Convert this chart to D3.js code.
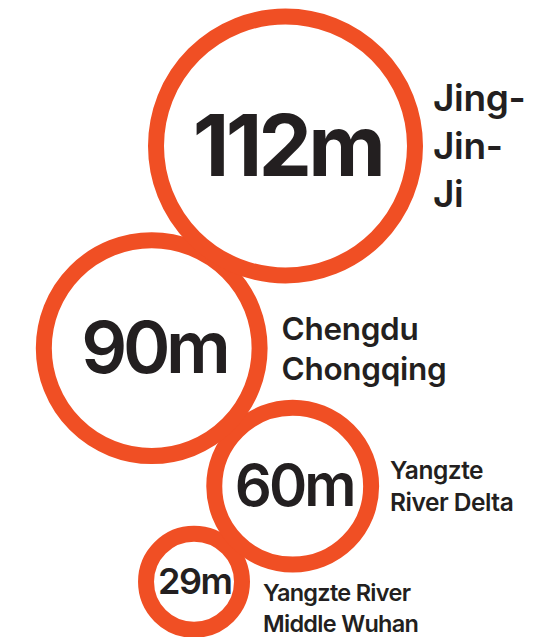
<!DOCTYPE html>
<html>
<head>
<meta charset="utf-8">
<script src="https://cdn.jsdelivr.net/npm/d3@7/dist/d3.min.js"></script>
<style>
  html, body { margin: 0; padding: 0; background: #fff; }
  svg { display: block; }
  text { font-family: Inter, "Noto Sans", sans-serif; fill: #231F20; }
</style>
</head>
<body>
<div id="chart"></div>
<script>
// ---- data ----
const regions = ["Jing-Jin-Ji", "Chengdu Chongqing", "Yangzte River Delta", "Yangzte River Middle Wuhan"];
const labelLines = [["Jing-", "Jin-", "Ji"], ["Chengdu", "Chongqing"], ["Yangzte", "River Delta"], ["Yangzte River", "Middle Wuhan"]];
const population = [112, 90, 60, 29];
const valueLabels = ["112m", "90m", "60m", "29m"];

// ---- layout / style ----
const W = 547, H = 637;
const ORANGE = "#F04F24";
const STROKE = 16;
const anchor = { x: 285.5, y: 146 };          // centre of first circle
const chainAngle = [123.5, 44.4, 135.9];       // degrees, direction to next circle
const chainOverlap = [11, 5, 5];               // px overlap of outer edges
const numberSize = [85, 72, 58, 36];
const numberWeight = [700, 600, 600, 600];
const numberSpacing = [-0.045, -0.06, -0.05, -0.04];
const labelSize = [37, 31.5, 24.5, 23.5];
const labelSpacing = [-0.01, -0.01, -0.02, -0.03];
const labelLead = [48, 40, 32, 31];
const labelGap = [10, 14, 11, 13];
const labelShift = [0, 0, 0, 26];

const rOuter = d3.scaleLinear().domain([0, 112]).range([27.5, 137.5]);

const svg = d3.select("#chart").append("svg")
  .attr("width", W).attr("height", H)
  .attr("viewBox", `0 0 ${W} ${H}`);

svg.append("rect").attr("width", W).attr("height", H).attr("fill", "#fff");

// chain layout
const nodes = population.map((v, i) => ({ i, v, r: rOuter(v), lines: labelLines[i], label: valueLabels[i] }));
nodes[0].x = anchor.x; nodes[0].y = anchor.y;
for (let i = 1; i < nodes.length; i++) {
  const p = nodes[i - 1], n = nodes[i];
  const d = p.r + n.r - chainOverlap[i - 1];
  const a = chainAngle[i - 1] * Math.PI / 180;
  n.x = p.x + d * Math.cos(a);
  n.y = p.y + d * Math.sin(a);
}

const g = svg.append("g");

const circ = g.selectAll("g.node").data(nodes.slice().reverse()).join("g").attr("class", "node");

circ.append("circle")
  .attr("cx", d => d.x).attr("cy", d => d.y)
  .attr("r", d => d.r - STROKE / 2)
  .attr("fill", "#fff")
  .attr("stroke", ORANGE)
  .attr("stroke-width", STROKE);

circ.append("text")
  .attr("x", d => d.x + numberSize[d.i] * numberSpacing[d.i] * -0.5)
  .attr("y", d => d.y)
  .attr("dy", "0.35em")
  .attr("text-anchor", "middle")
  .attr("font-weight", d => numberWeight[d.i])
  .attr("font-size", d => numberSize[d.i])
  .attr("letter-spacing", d => numberSize[d.i] * numberSpacing[d.i])
  .text(d => d.label);

const lab = svg.selectAll("text.region").data(nodes).join("text")
  .attr("class", "region")
  .attr("font-weight", 600)
  .attr("font-size", d => labelSize[d.i])
  .attr("letter-spacing", d => labelSize[d.i] * labelSpacing[d.i]);

lab.each(function(d) {
  const t = d3.select(this);
  const n = d.lines.length;
  const lead = labelLead[d.i];
  const cap = labelSize[d.i] * 0.727;
  const firstBase = d.y + labelShift[d.i] + cap / 2 - (n - 1) * lead / 2;
  d.lines.forEach((line, k) => {
    t.append("tspan")
      .attr("x", d.x + d.r + labelGap[d.i])
      .attr("y", firstBase + k * lead)
      .text(line);
  });
});
</script>
</body>
</html>
